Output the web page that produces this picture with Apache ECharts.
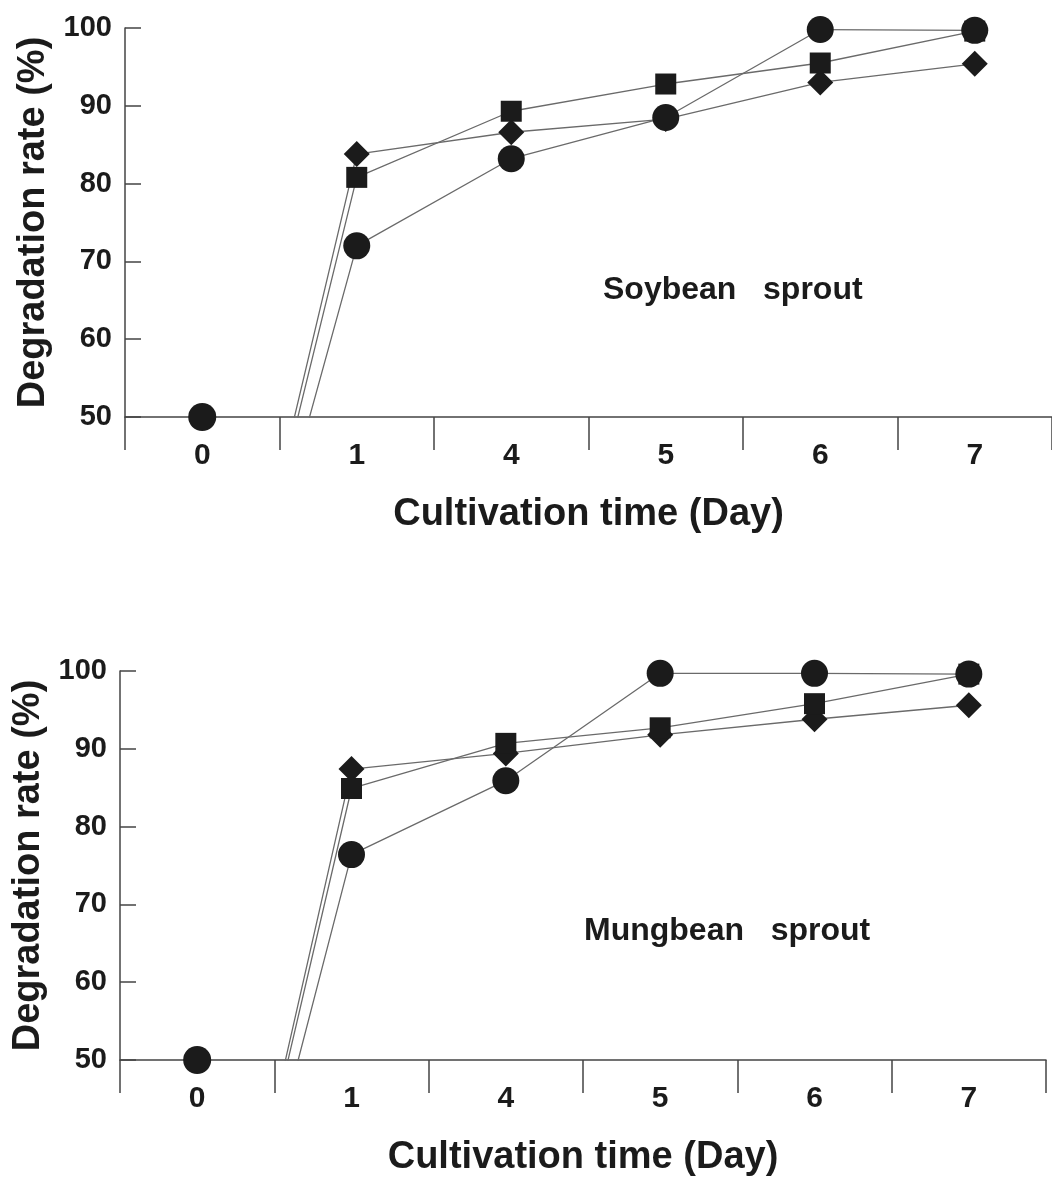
<!DOCTYPE html>
<html>
<head>
    <meta charset="utf-8">
    <title>Degradation rate</title>
    <script src="https://cdn.jsdelivr.net/npm/echarts@6/dist/echarts.min.js"></script>
    <style>
        html, body { margin: 0; padding: 0; background: #fff; }
    </style>
</head>
<body>
<div id="main" style="width: 1052px;height:1183px;"></div>

<script type="text/javascript">
    // categories (cultivation days)
    const days = ['0', '1', '4', '5', '6', '7'];
    const yTicks = [50, 60, 70, 80, 90, 100];

    // soybean sprout (day 0 is 0 %, below the broken axis)
    const soyDiamond = [0, 83.8, 86.6, 88.3, 93.0, 95.4];
    const soySquare = [0, 80.8, 89.3, 92.8, 95.5, 99.6];
    const soyCircle = [0, 72.0, 83.2, 88.5, 99.8, 99.7];

    // mungbean sprout
    const mungDiamond = [0, 87.4, 89.4, 91.8, 93.8, 95.6];
    const mungSquare = [0, 84.9, 90.7, 92.7, 95.8, 99.6];
    const mungCircle = [0, 76.4, 85.9, 99.7, 99.7, 99.6];

    // the day-0 point is drawn on the axis break
    const day0Shown = [50];

    const ink = '#1b1b1b';
    const lineGray = '#6a6a6a';
    const boldFont = '"Liberation Sans", Arial, sans-serif';

    function toData(values) {
        // hide the symbol of the clipped day-0 point
        return values.map((v, i) => i === 0 ? { value: v, symbol: 'none' } : v);
    }

    function lineSeries(name, values, idx, symbol, size) {
        return {
            name: name,
            type: 'line',
            xAxisIndex: idx,
            yAxisIndex: idx,
            data: toData(values),
            clip: true,
            symbol: symbol,
            symbolSize: size,
            showAllSymbol: true,
            lineStyle: { color: lineGray, width: 1.3 },
            itemStyle: { color: ink, opacity: 1 },
            z: symbol === 'circle' ? 4 : 3,
            animation: false
        };
    }

    function day0Series(idx) {
        return {
            type: 'scatter',
            xAxisIndex: idx,
            yAxisIndex: idx,
            data: [[days[0], day0Shown[0]]],
            symbol: 'circle',
            symbolSize: 28,
            clip: false,
            itemStyle: { color: ink, opacity: 1 },
            z: 5,
            animation: false
        };
    }

    function xAxisFor(idx) {
        return {
            type: 'category',
            gridIndex: idx,
            data: days,
            boundaryGap: true,
            name: 'Cultivation time (Day)',
            nameLocation: 'middle',
            nameGap: 79,
            nameTextStyle: { fontSize: 38, fontWeight: 'bold', color: ink, fontFamily: boldFont },
            axisLine: { lineStyle: { color: '#444', width: 1.5 } },
            axisTick: { show: true, length: 33, lineStyle: { color: '#444', width: 1.5 } },
            axisLabel: { fontSize: 30, fontWeight: 'bold', color: ink, fontFamily: boldFont, margin: 24 },
            splitLine: { show: false }
        };
    }

    function yAxisFor(idx) {
        return {
            type: 'value',
            gridIndex: idx,
            min: yTicks[0],
            max: yTicks[yTicks.length - 1],
            interval: 10,
            name: 'Degradation rate (%)',
            nameLocation: 'middle',
            nameGap: 64,
            nameTextStyle: { fontSize: 38, fontWeight: 'bold', color: ink, fontFamily: boldFont },
            axisLine: { show: true, lineStyle: { color: '#444', width: 1.5 } },
            axisTick: { show: true, inside: true, length: 16, lineStyle: { color: '#444', width: 1.5 } },
            axisLabel: { fontSize: 29, fontWeight: 'bold', color: ink, fontFamily: boldFont, margin: 13 },
            splitLine: { show: false }
        };
    }

    let myChart = echarts.init(document.getElementById('main'));
    let option = {
        backgroundColor: '#fff',
        title: [
            {
                text: 'Soybean   sprout',
                left: 603, top: 274, padding: 0,
                textStyle: { fontSize: 32, fontWeight: 'bold', color: ink, fontFamily: boldFont }
            },
            {
                text: 'Mungbean   sprout',
                left: 584, top: 915, padding: 0,
                textStyle: { fontSize: 32, fontWeight: 'bold', color: ink, fontFamily: boldFont }
            }
        ],
        grid: [
            { left: 125, top: 28, width: 927, height: 389 },
            { left: 120, top: 671, width: 926, height: 389 }
        ],
        xAxis: [xAxisFor(0), xAxisFor(1)],
        yAxis: [yAxisFor(0), yAxisFor(1)],
        series: [
            lineSeries('Soy diamond', soyDiamond, 0, 'diamond', [26, 26]),
            lineSeries('Soy square', soySquare, 0, 'rect', 21),
            lineSeries('Soy circle', soyCircle, 0, 'circle', 27),
            day0Series(0),
            lineSeries('Mung diamond', mungDiamond, 1, 'diamond', [26, 26]),
            lineSeries('Mung square', mungSquare, 1, 'rect', 21),
            lineSeries('Mung circle', mungCircle, 1, 'circle', 27),
            day0Series(1)
        ]
    };
    myChart.setOption(option);
</script>
</body>
</html>
